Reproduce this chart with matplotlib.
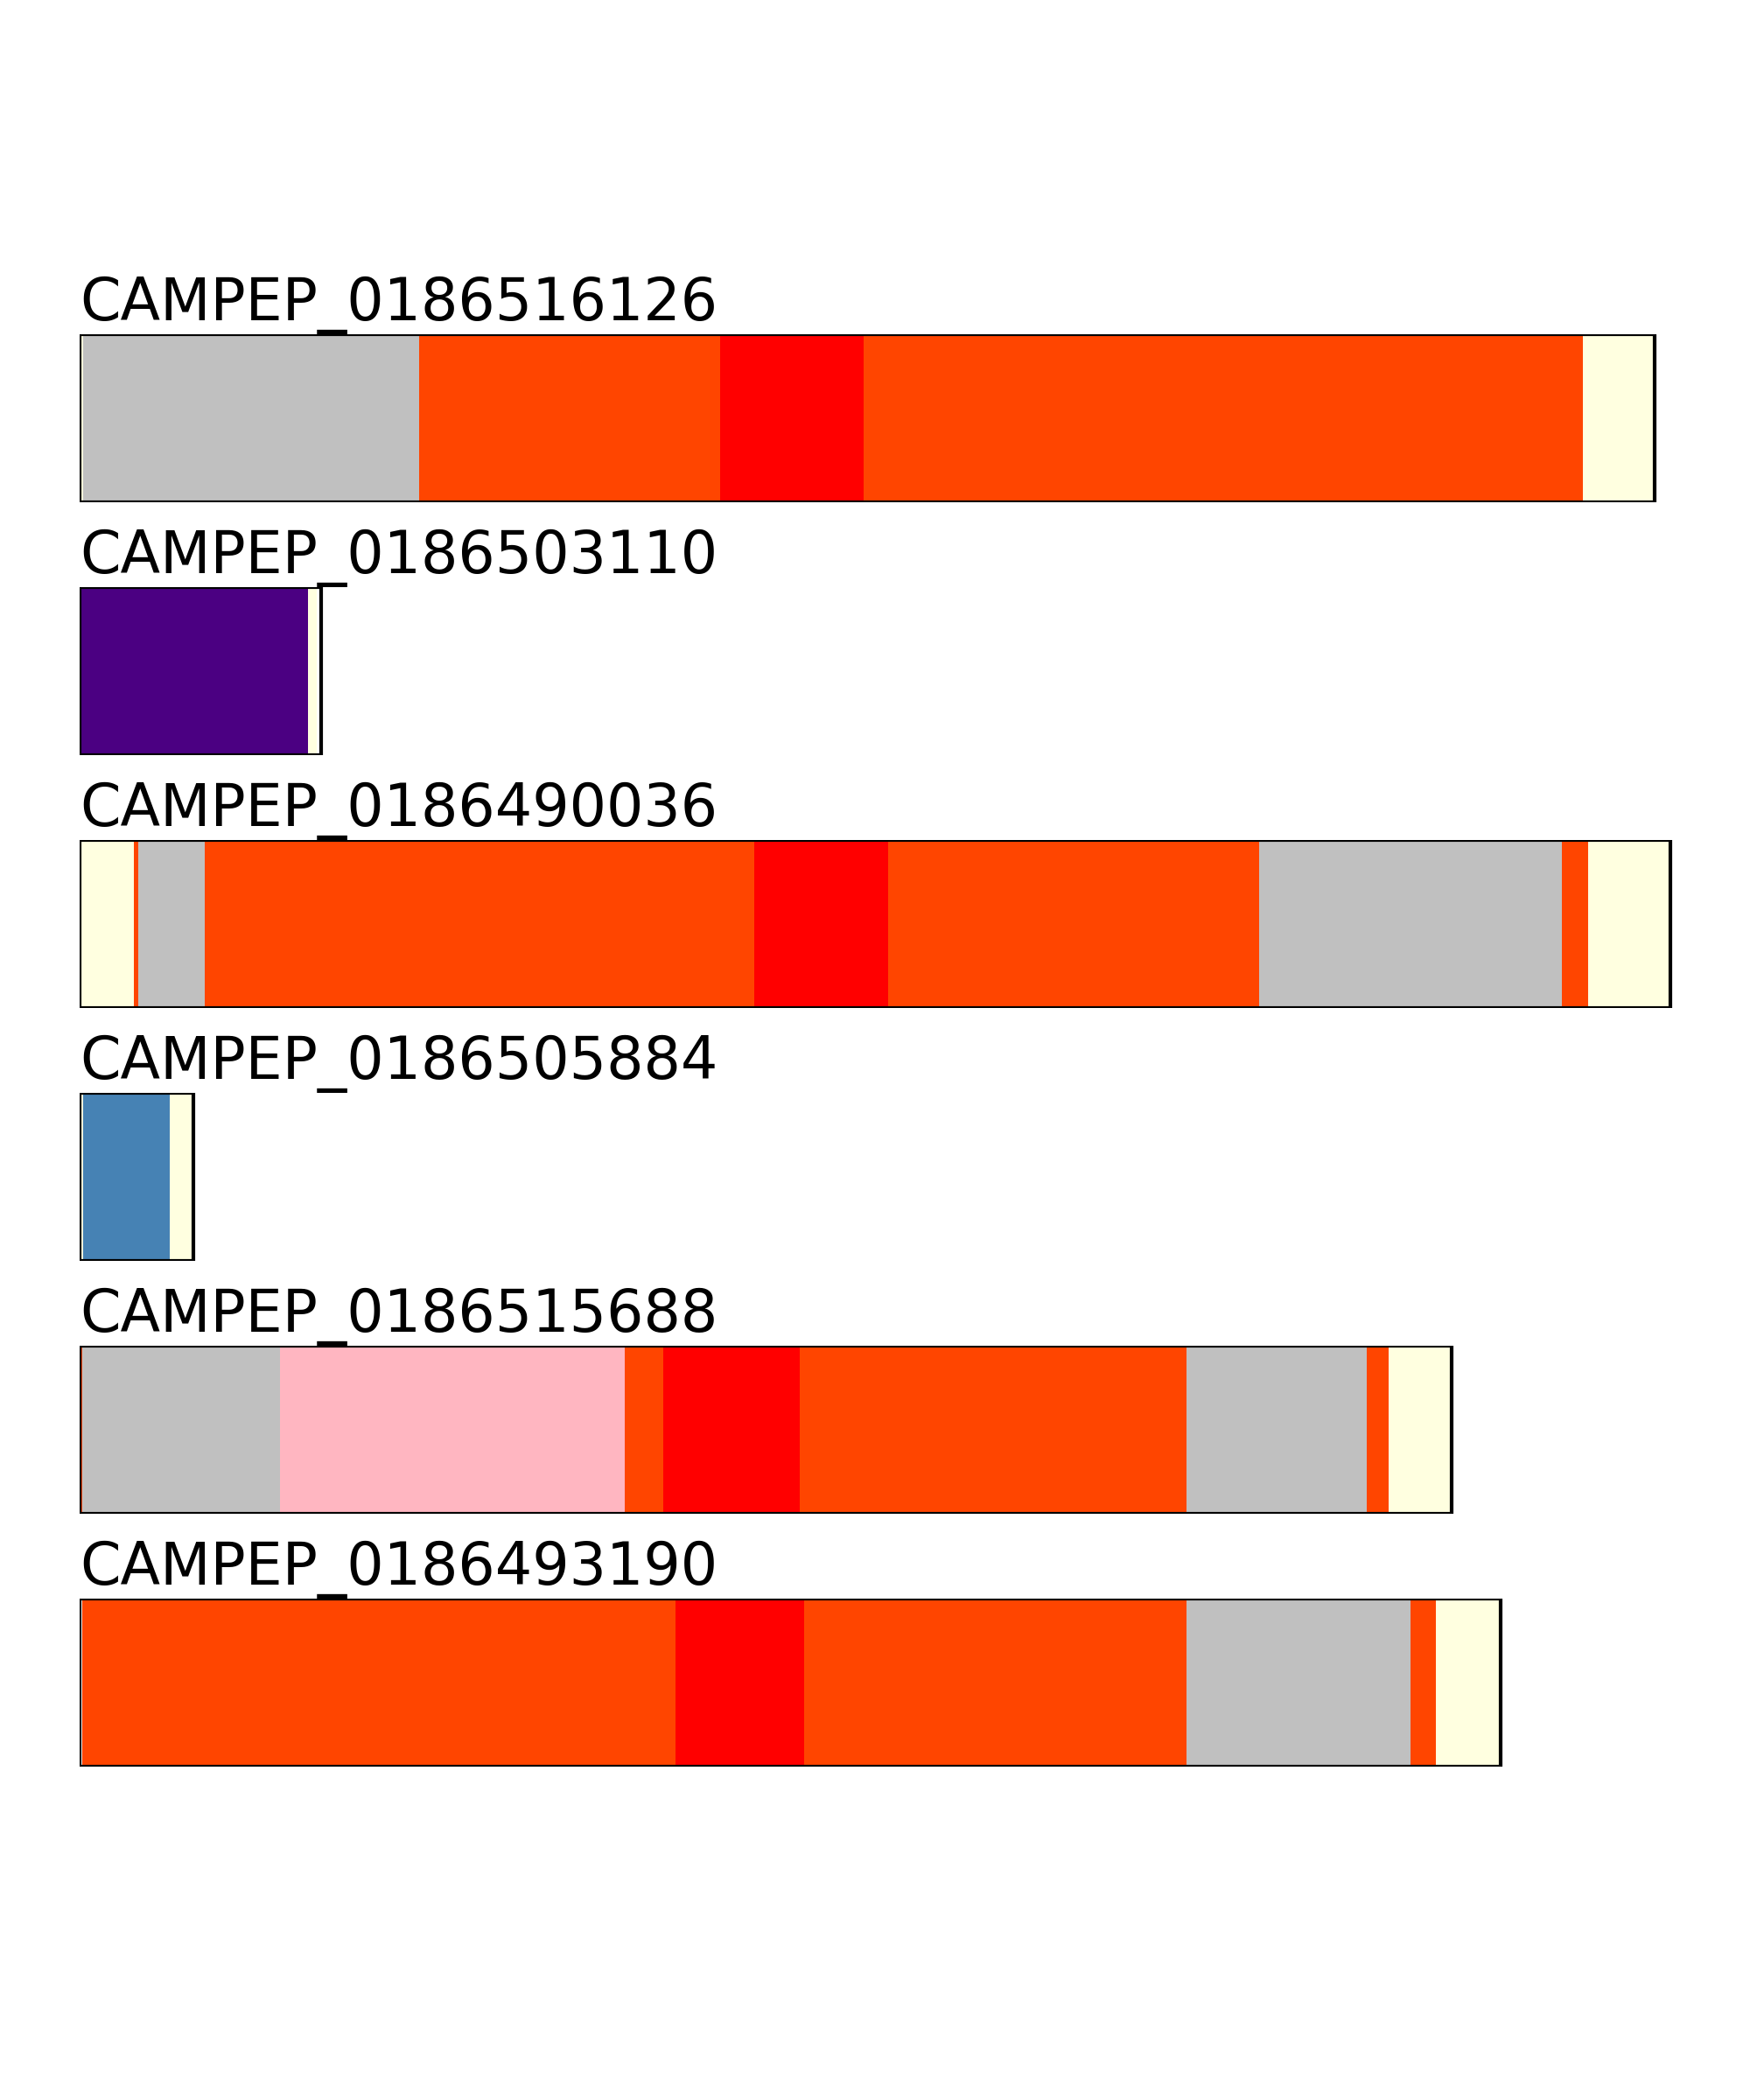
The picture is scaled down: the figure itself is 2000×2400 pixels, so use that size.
import matplotlib
matplotlib.use('Agg')
import matplotlib.pyplot as plt

# protein ids (top to bottom) and total lengths
names = ['CAMPEP_0186516126', 'CAMPEP_0186503110', 'CAMPEP_0186490036',
         'CAMPEP_0186505884', 'CAMPEP_0186515688', 'CAMPEP_0186493190']
lengths = [900, 138, 909, 65, 784, 812]

# segment boundaries (residue positions) and segment colours per protein
bounds_1 = [0, 2, 194, 366, 448, 859, 900]
colors_1 = ['lightyellow', 'silver', 'orangered', 'red', 'orangered', 'lightyellow']

bounds_2 = [0, 130.5, 135.5]
colors_2 = ['indigo', 'lightyellow']

bounds_3 = [0, 31, 33.5, 71.5, 385.5, 462, 674, 847, 862, 909]
colors_3 = ['lightyellow', 'orangered', 'silver', 'orangered', 'red',
            'orangered', 'silver', 'orangered', 'lightyellow']

bounds_4 = [0, 2, 51.5, 64]
colors_4 = ['lightyellow', 'steelblue', 'lightyellow']

bounds_5 = [0, 1.5, 114.5, 311.5, 333.5, 411.5, 632.5, 735.5, 748, 784]
colors_5 = ['orangered', 'silver', 'lightpink', 'orangered', 'red',
            'orangered', 'silver', 'orangered', 'lightyellow']

bounds_6 = [1.5, 340.5, 414, 632.5, 760.5, 775, 812]
colors_6 = ['orangered', 'red', 'orangered', 'silver', 'orangered', 'lightyellow']

all_bounds = [bounds_1, bounds_2, bounds_3, bounds_4, bounds_5, bounds_6]
all_colors = [colors_1, colors_2, colors_3, colors_4, colors_5, colors_6]

X_MAX = 920

fig = plt.figure(figsize=(10, 12), dpi=200)

for i, name in enumerate(names):
    top_px = 382 + 289 * i
    ax = fig.add_axes([91 / 2000, 1 - (top_px + 192) / 2400, 1840 / 2000, 192 / 2400])
    b = all_bounds[i]
    segs = [(b[k], b[k + 1] - b[k]) for k in range(len(b) - 1)]
    ax.broken_barh(segs, (0, 1), facecolors=all_colors[i], edgecolor='none', zorder=1)
    # outline of the full protein
    ax.broken_barh([(0, lengths[i])], (0, 1), facecolors='none',
                   edgecolor='black', linewidth=1.5, zorder=2)
    ax.set_xlim(0, X_MAX)
    ax.set_ylim(0, 1)
    ax.set_title(name, loc='left', fontsize=24, pad=3.6)
    ax.axis('off')

plt.savefig('out.png', dpi=200, facecolor='white')
plt.close()
